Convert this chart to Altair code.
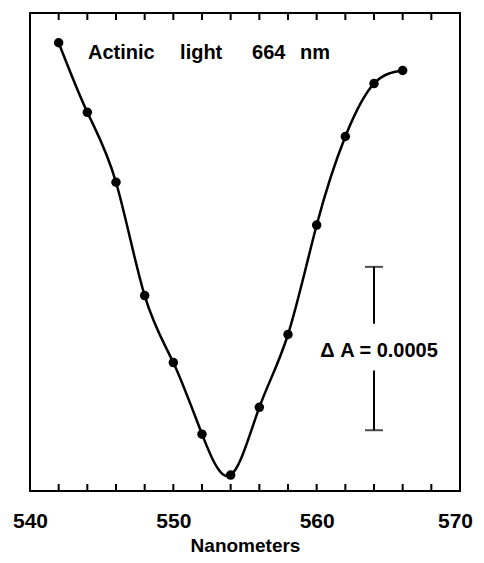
import altair as alt
import pandas as pd

# wavelength (nm) and absorbance change (arbitrary baseline, in ΔA units)
wavelength = [542, 544, 546, 548, 550, 552, 554, 556, 558, 560, 562, 564, 566]
delta_a = [0.001372, 0.001159, 0.000945, 0.000598, 0.000393, 0.000174, 0.0000488,
           0.000256, 0.000479, 0.000814, 0.001085, 0.001247, 0.001287]

tick_values = list(range(542, 569, 2))
label_values = [540, 550, 560, 570]

Y_MAX = 0.001463

# scale bar (ΔA = 0.0005) at 564 nm, split to leave room for its label
bar_x = [564, 564]
bar_y = [0.000686, 0.000369]
bar_y2 = [0.000512, 0.000186]
cap_y = [0.000686, 0.000186]

# annotation words
title_words = ["Actinic", "light", "664", "nm"]
title_x = [544.05, 550.47, 555.49, 558.84]
title_y = [0.001341] * 4
scale_label = ["\u0394 A = 0.0005"]
scale_label_x = [564.35]
scale_label_y = [0.00043]

df = pd.DataFrame({"nm": wavelength, "dA": delta_a})
ticks = pd.DataFrame({"nm": tick_values})
bars = pd.DataFrame({"nm": bar_x, "y": bar_y, "y2": bar_y2})
caps = pd.DataFrame({"nm": bar_x, "y": cap_y})
ann1 = pd.DataFrame({"nm": title_x, "y": title_y, "t": title_words})
ann2 = pd.DataFrame({"nm": scale_label_x, "y": scale_label_y, "t": scale_label})

FONT = "Liberation Sans"
W, H = 430, 478
xscale = alt.Scale(domain=[540, 570], nice=False, zero=False)
yscale = alt.Scale(domain=[0, Y_MAX], nice=False, zero=False)

x_bottom = alt.X("nm:Q", scale=xscale, title="Nanometers",
                 axis=alt.Axis(orient="bottom", values=label_values, ticks=False,
                               domain=False, grid=False,
                               labelFont=FONT, labelFontSize=21,
                               labelFontWeight="bold", labelColor="black", labelPadding=19,
                               labelOffset={"condition": {"test": "datum.value == 570", "value": -5},
                                            "value": 0},
                               titleFont=FONT, titleFontSize=19, titleFontWeight="bold",
                               titleColor="black", titlePadding=5, labelFlush=False,
                               labelOverlap=False))
x_plain = alt.X("nm:Q", scale=xscale, title="Nanometers")
y_enc = alt.Y("dA:Q", scale=yscale, axis=None)

line = alt.Chart(df).mark_line(color="black", strokeWidth=2.5, interpolate="natural").encode(
    x=x_bottom, y=y_enc)

bottom_ticks = alt.Chart(ticks).mark_rule(color="black", strokeWidth=2).encode(
    x=x_plain, y=alt.value(H - 7), y2=alt.value(H))
top_ticks = alt.Chart(ticks).mark_rule(color="black", strokeWidth=2).encode(
    x=x_plain, y=alt.value(0), y2=alt.value(7))

pts = alt.Chart(df).mark_circle(color="black", size=90, opacity=1).encode(
    x=x_plain, y=y_enc)

bar = alt.Chart(bars).mark_rule(color="black", strokeWidth=2).encode(
    x=x_plain, y=alt.Y("y:Q", scale=yscale, axis=None), y2="y2:Q")
cap = alt.Chart(caps).mark_tick(color="black", orient="horizontal", size=18, thickness=2).encode(
    x=x_plain, y=alt.Y("y:Q", scale=yscale, axis=None))

txt1 = alt.Chart(ann1).mark_text(font=FONT, fontSize=20, fontWeight="bold", align="left",
                                 baseline="middle", color="black").encode(
    x=x_plain, y=alt.Y("y:Q", scale=yscale, axis=None), text="t:N")
txt2 = alt.Chart(ann2).mark_text(font=FONT, fontSize=20, fontWeight="bold", align="center",
                                 baseline="middle", color="black").encode(
    x=x_plain, y=alt.Y("y:Q", scale=yscale, axis=None), text="t:N")

chart = alt.layer(line, bottom_ticks, top_ticks, pts, bar, cap, txt1, txt2).properties(
    width=W, height=H,
    background="white",
    autosize=alt.AutoSizeParams(type="none"),
    padding={"left": 22, "top": 5, "right": 16, "bottom": 64},
).configure_view(stroke="black", strokeWidth=2)

chart.save("out.html", embed_options={"renderer": "svg", "actions": False})
